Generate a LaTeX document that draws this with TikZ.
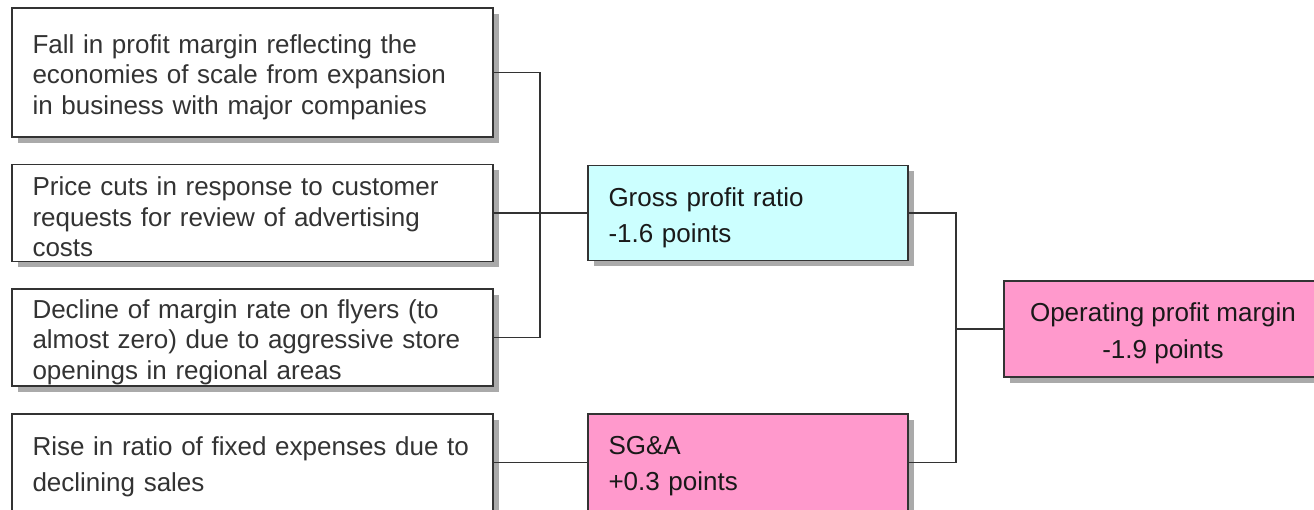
\documentclass[tikz,border=0pt]{standalone}
\usepackage{fontspec}
\setmainfont{Liberation Sans}
\usetikzlibrary{shadows}
\definecolor{linec}{HTML}{333333}
\definecolor{txtc}{HTML}{333333}
\definecolor{cyanfill}{HTML}{CCFFFF}
\definecolor{pinkfill}{HTML}{FF99CC}
\definecolor{shadowc}{HTML}{AAAAAA}
\tikzset{
  basebox/.style={draw=linec, line width=1.4pt, rectangle, inner sep=0pt,
    drop shadow={shadow xshift=6pt, shadow yshift=-6pt, fill=shadowc, opacity=1}},
  causebox/.style={basebox, fill=white, minimum width=481pt},
  sumbox/.style={basebox, minimum width=320pt},
  topbox/.style={basebox, minimum width=318pt},
  causetxt/.style={anchor=west, inner sep=0pt, text=txtc, align=left, text width=450pt,
    font=\fontsize{26pt}{30.5pt}\selectfont},
  causetxtw/.style={causetxt, font=\fontsize{26pt}{36pt}\selectfont},
  sumtxt/.style={anchor=west, inner sep=0pt, text=black!90, align=left, text width=290pt,
    font=\fontsize{26pt}{36pt}\selectfont},
  toptxt/.style={inner sep=0pt, text=black!90, align=center,
    font=\fontsize{26pt}{37pt}\selectfont},
  conn/.style={draw=linec, line width=1.3pt}
}
\begin{document}
\begin{tikzpicture}[x=1pt,y=-1pt]
\useasboundingbox (0,0) rectangle (1314,510);
\node[causebox, minimum height=129pt] (b1) at (252.5,72.5) {};
\node[causebox, minimum height=97pt] (b2) at (252.5,213) {};
\node[causebox, minimum height=97pt] (b3) at (252.5,337.5) {};
\node[causebox, minimum height=97pt] (b4) at (252.5,462.5) {};
\node[sumbox, fill=cyanfill, minimum height=95pt] (gp) at (748,213) {};
\node[sumbox, fill=pinkfill, minimum height=97pt] (sga) at (748,462.5) {};
\node[topbox, fill=pinkfill, minimum height=96pt] (op) at (1163,329) {};
\node[causetxt] (t1) at ([xshift=21pt,yshift=-4.5pt]b1.west) {Fall in profit margin reflecting the\\economies of scale from expansion\\in business with major companies};
\node[causetxt] (t2) at ([xshift=21pt,yshift=-4pt]b2.west) {Price cuts in response to customer\\requests for review of advertising\\costs};
\node[causetxt] (t3) at ([xshift=21pt,yshift=-4.5pt]b3.west) {Decline of margin rate on flyers (to\\almost zero) due to aggressive store\\openings in regional areas};
\node[causetxtw] (t4) at ([xshift=21pt,yshift=-4.5pt]b4.west) {Rise in ratio of fixed expenses due to\\declining sales};
\node[sumtxt] (tg) at ([xshift=21pt,yshift=-4.5pt]gp.west) {Gross profit ratio\\-1.6 points};
\node[sumtxt] (ts) at ([xshift=21pt,yshift=-4pt]sga.west) {SG\&A\\+0.3 points};
\node[toptxt] (to) at ([yshift=-4pt]op.center) {Operating profit margin\\-1.9 points};
\coordinate (j1) at (540,213);
\coordinate (j2) at (956,329);
\draw[conn] (b1.east) -| (j1) |- (b3.east);
\draw[conn] (b2.east) -- (gp.west);
\draw[conn] (b4.east) -- (sga.west);
\draw[conn] (gp.east) -| (j2) |- (sga.east);
\draw[conn] (j2) -- (op.west);
\end{tikzpicture}
\end{document}
